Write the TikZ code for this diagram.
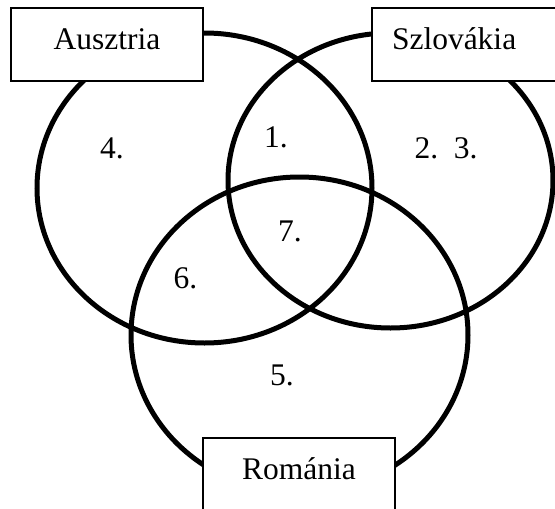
\documentclass[tikz,border=0pt]{standalone}
\usepackage{fontspec}
\setmainfont{Liberation Serif}

\begin{document}
\begin{tikzpicture}[x=1pt,y=-1pt,
set/.style={line width=5pt},
country/.style={draw,fill=white,line width=1.5pt,outer sep=0pt,minimum width=192pt,minimum height=73pt,text height=22pt,text depth=13pt,font=\fontsize{31.5}{36}\selectfont},
region/.style={anchor=base,font=\fontsize{31.5}{36}\selectfont}]

\useasboundingbox(0,0)rectangle(555,509);
\clip(0,0)rectangle(555,509);

\draw[set](204.5,188)ellipse[x radius=167.5pt,y radius=155pt];
\draw[set](390.5,180.5)ellipse[x radius=162.5pt,y radius=147.5pt];
\draw[set](299.5,335)ellipse[x radius=168.5pt,y radius=158pt];

\node[country](aus) at (107,44.5){Ausztria};
\node[country,anchor=north west,text width=152pt,inner xsep=20pt,align=left](svk) at (372,8){Szlovákia};
\node[country](rom) at (299,474.5){Románia};

\node[region](r1) at (276,147){1.};
\node[region](r23) at (446,158){2.\ \ 3.};
\node[region](r4) at (112,158){4.};
\node[region](r5) at (282,385){5.};
\node[region](r6) at (185.5,288){6.};
\node[region](r7) at (290,241){7.};

\end{tikzpicture}
\end{document}
